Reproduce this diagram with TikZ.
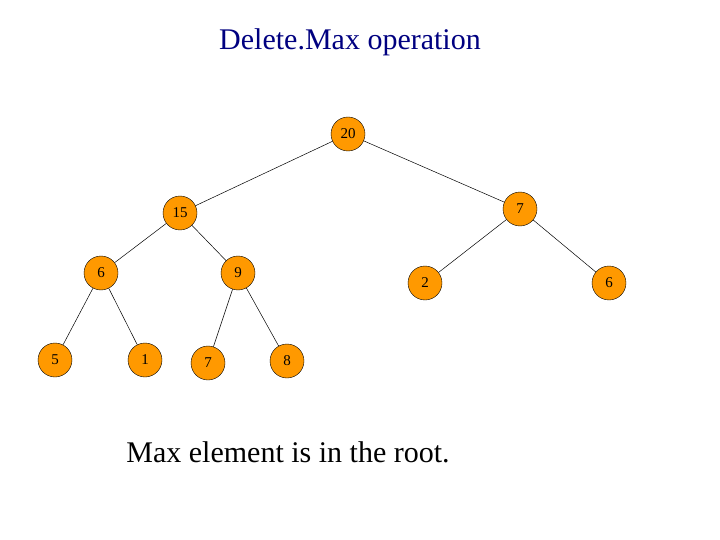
\documentclass[tikz,border=0pt]{standalone}
\usepackage{fontspec}
\setmainfont{Liberation Serif}
\definecolor{nodeor}{RGB}{255,153,0}
\definecolor{titleblue}{RGB}{0,0,128}
\begin{document}
\begin{tikzpicture}[x=1pt,y=-1pt,
  hn/.style={circle,draw=black,fill=nodeor,minimum size=34pt,inner sep=0pt,font=\fontsize{15}{15}\selectfont},
  ed/.style={draw=black,line width=0.5pt}]
\useasboundingbox (0,0) rectangle (720,540);
\node[text=titleblue,font=\fontsize{30}{30}\selectfont] (title) at (350,42) {Delete.Max operation};
\node[hn] (a) at (348,134) {20};
\node[hn] (b) at (180,213) {15};
\node[hn] (c) at (520,209) {7};
\node[hn] (d) at (101,273) {6};
\node[hn] (e) at (238,273) {9};
\node[hn] (f) at (425,283) {2};
\node[hn] (g) at (609,283) {6};
\node[hn] (h) at (55,360) {5};
\node[hn] (i) at (145,360) {1};
\node[hn] (j) at (208,363) {7};
\node[hn] (k) at (287,361) {8};
\draw[ed] (a)--(b); \draw[ed] (a)--(c);
\draw[ed] (b)--(d); \draw[ed] (b)--(e);
\draw[ed] (c)--(f); \draw[ed] (c)--(g);
\draw[ed] (d)--(h); \draw[ed] (d)--(i);
\draw[ed] (e)--(j); \draw[ed] (e)--(k);
\node[font=\fontsize{30}{30}\selectfont] (cap) at (288,452) {Max element is in the root.};
\end{tikzpicture}
\end{document}
